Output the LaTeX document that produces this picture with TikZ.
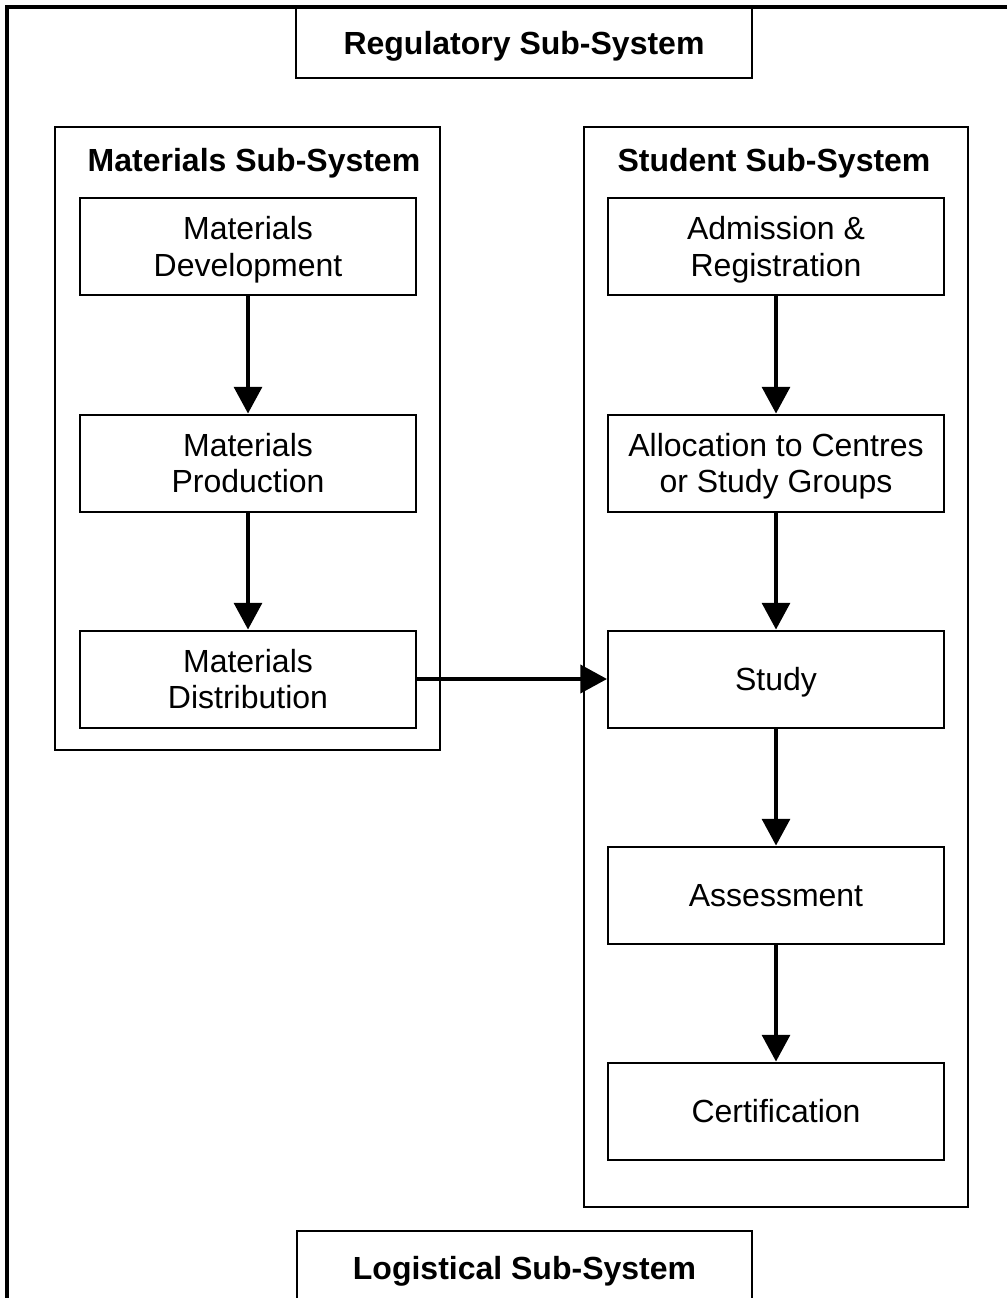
\documentclass[tikz,border=0pt]{standalone}
\usepackage{fontspec}
\setmainfont{Liberation Sans}
\usetikzlibrary{arrows.meta}

\tikzset{
  procbox/.style={draw, line width=1.5pt, minimum width=252pt, minimum height=72.75pt,
    inner sep=0pt, align=center, text depth=0pt, font=\fontsize{24}{27.5}\selectfont},
  subbox/.style={draw, line width=1.5pt, inner sep=0pt},
  subtitle/.style={inner sep=0pt, text depth=0pt, font=\fontsize{24}{27.5}\selectfont\bfseries},
  flow/.style={line width=2.4pt, -{Triangle[width=21pt,length=20pt]}},
}

\begin{document}
\begin{tikzpicture}[x=0.75pt,y=-0.75pt]

  \useasboundingbox (0,0) rectangle (1007,1298);
  \clip (0,0) rectangle (1007,1298);

  % Outer frame
  \draw[line width=2.6pt] (1007,7) -- (7,7) -- (7,1298);

  % Regulatory and logistical boxes
  \node[subbox, subtitle, draw, minimum width=342pt, minimum height=53.25pt] (reg) at (524,42.5) {Regulatory Sub-System};
  \node[subbox, subtitle, draw, minimum width=341.25pt, minimum height=55.5pt] (logi) at (524.5,1268) {Logistical Sub-System};

  % Sub-system frames
  \node[subbox, minimum width=288.75pt, minimum height=467.25pt] (matsys) at (247.5,438.5) {};
  \node[subbox, minimum width=288pt, minimum height=810pt] (stusys) at (776,667) {};
  \node[subtitle] (matlabel) at (254,160) {Materials Sub-System};
  \node[subtitle] (stulabel) at (774,160) {Student Sub-System};

  % Materials chain
  \node[procbox] (matdev) at (248,246.5) {Materials\\Development};
  \node[procbox] (matprod) at (248,463) {Materials\\Production};
  \node[procbox] (matdist) at (248,679) {Materials\\Distribution};

  % Student chain
  \node[procbox] (admit) at (776,246.5) {Admission \&\\Registration};
  \node[procbox] (alloc) at (776,463) {Allocation to Centres\\or Study Groups};
  \node[procbox] (study) at (776,679) {Study};
  \node[procbox] (assess) at (776,895) {Assessment};
  \node[procbox] (cert) at (776,1111) {Certification};

  % Flows
  \draw[flow] (matdev) -- (matprod);
  \draw[flow] (matprod) -- (matdist);
  \draw[flow] (admit) -- (alloc);
  \draw[flow] (alloc) -- (study);
  \draw[flow] (study) -- (assess);
  \draw[flow] (assess) -- (cert);
  \draw[flow, line width=3pt] (matdist) -- (study);

\end{tikzpicture}
\end{document}
